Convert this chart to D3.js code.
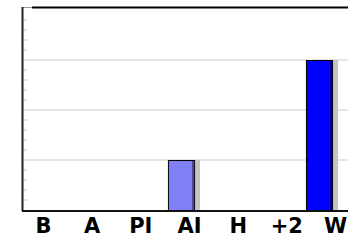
<!DOCTYPE html>
<html>
<head>
<meta charset="utf-8">
<script src="https://cdn.jsdelivr.net/npm/d3@7"></script>
<style>
  body { margin: 0; background: #fff; }
  svg { display: block; }
</style>
</head>
<body>
<div class="chart"></div>
<script>
// data
const categories = ["B", "A", "PI", "AI", "H", "+2", "W"];
const values = [0, 0, 0, 1, 0, 0, 3];
const barColors = ["#8080f8", "#8080f8", "#8080f8", "#8080f8", "#8080f8", "#8080f8", "#0000ff"];
const gridValues = [1, 2, 3];

const outerWidth = 348;
const outerHeight = 240;

const svg = d3.select(".chart")
            .append("svg")
            .attr("width", outerWidth)
            .attr("height", outerHeight);

const xScale = d3.scaleBand()
            .domain(categories)
            .range([20.5, 342.5])
            .paddingInner(0.41)
            .paddingOuter(0.205);

// labels sit on their own spacing
const labelScale = d3.scalePoint()
            .domain(categories)
            .range([43, 335]);

const yScale = d3.scaleLinear()
            .domain([0, 4])
            .range([210, 10]);

// gridlines
svg.append("g")
    .attr("class", "grid")
    .selectAll("line")
    .data(gridValues)
    .join("line")
    .attr("x1", 23)
    .attr("x2", outerWidth)
    .attr("y1", d => yScale(d))
    .attr("y2", d => yScale(d))
    .attr("stroke", "#e6e6e6")
    .attr("stroke-width", 2);

// minor ticks on the left axis
const minorTicks = d3.range(0, 4, 0.2).filter(d => Math.abs(d - Math.round(d)) > 0.01);
svg.append("g")
    .selectAll("line")
    .data(minorTicks)
    .join("line")
    .attr("x1", 23)
    .attr("x2", 27)
    .attr("y1", d => yScale(d))
    .attr("y2", d => yScale(d))
    .attr("stroke", "#d8d8d8")
    .attr("stroke-width", 1.5);

// frame: top line
svg.append("line")
    .attr("x1", 22).attr("x2", 32)
    .attr("y1", 7.5).attr("y2", 7.5)
    .attr("stroke", "#999").attr("stroke-width", 1);
svg.append("line")
    .attr("x1", 32).attr("x2", outerWidth)
    .attr("y1", 7.5).attr("y2", 7.5)
    .attr("stroke", "#000").attr("stroke-width", 2);

// left axis
svg.append("line")
    .attr("x1", 22.5).attr("x2", 22.5)
    .attr("y1", 7).attr("y2", yScale(0) + 1)
    .attr("stroke", "#222").attr("stroke-width", 2);

const data = categories.map((c, i) => ({cat: c, value: values[i], color: barColors[i]}));
const bars = data.filter(d => d.value > 0);

// shadows
svg.append("g")
    .selectAll("rect")
    .data(bars)
    .join("rect")
    .attr("x", d => xScale(d.cat) + xScale.bandwidth())
    .attr("y", d => yScale(d.value))
    .attr("width", 5)
    .attr("height", d => yScale(0) - yScale(d.value))
    .attr("fill", "#c4c4c4");

// bars
svg.append("g")
    .selectAll("rect")
    .data(bars)
    .join("rect")
    .attr("x", d => xScale(d.cat) + 0.5)
    .attr("y", d => yScale(d.value) + 0.5)
    .attr("width", xScale.bandwidth() - 1)
    .attr("height", d => yScale(0) - yScale(d.value))
    .attr("fill", d => d.color)
    .attr("stroke", "#000")
    .attr("stroke-width", 1);

// darker right edge on each bar
svg.append("g")
    .selectAll("rect")
    .data(bars)
    .join("rect")
    .attr("x", d => xScale(d.cat) + xScale.bandwidth() - 3)
    .attr("y", d => yScale(d.value) + 1)
    .attr("width", 2)
    .attr("height", d => yScale(0) - yScale(d.value) - 1)
    .attr("fill", d => d3.color(d.color).darker(1.6));

// baseline
svg.append("line")
    .attr("x1", 22).attr("x2", outerWidth)
    .attr("y1", yScale(0) + 1).attr("y2", yScale(0) + 1)
    .attr("stroke", "#111").attr("stroke-width", 2);

// category labels
const xAxis = d3.axisBottom(labelScale).tickSize(0).tickPadding(0);
const gx = svg.append("g")
    .attr("transform", `translate(0, 218)`)
    .call(xAxis);
gx.select(".domain").remove();
gx.selectAll("text")
    .attr("dy", "0.72em")
    .attr("fill", "#000")
    .style("font-family", "'DejaVu Sans', Verdana, sans-serif")
    .style("font-weight", "bold")
    .style("font-size", "21px");
</script>
</body>
</html>
